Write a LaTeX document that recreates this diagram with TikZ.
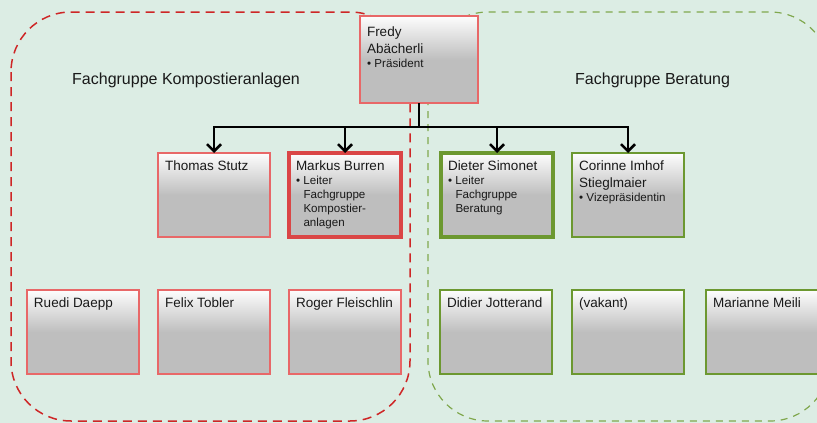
\documentclass[tikz,border=0pt]{standalone}
\usepackage{fontspec}
\setmainfont{Liberation Sans}
\usetikzlibrary{arrows.meta}

\definecolor{grund}{RGB}{220,237,228}
\definecolor{kompostrot}{RGB}{206,38,38}
\definecolor{beratgruen}{RGB}{128,168,78}
\definecolor{kartenrot}{RGB}{232,104,104}
\definecolor{leiterrot}{RGB}{218,70,70}
\definecolor{kartengruen}{RGB}{108,152,48}
\definecolor{kartengrau}{RGB}{190,190,190}

\newcommand{\karte}[2][98pt]{\parbox[t]{#1}{\fontsize{13.5}{17}\selectfont #2}}
\newcommand{\punkt}[1]{\par\fontsize{11.6}{14}\selectfont\hangindent=7.5pt\hangafter=1\noindent\makebox[7.5pt][l]{\textbullet}#1}

\begin{document}
\begin{tikzpicture}[x=1pt, y=-1pt]
    \tikzstyle{karte}=[rectangle, outer sep=0pt, inner xsep=7pt, inner ysep=0pt, anchor=north west, minimum width=112pt, text height=17.5pt, text depth=66.5pt, top color=white!97!kartengrau, bottom color=kartengrau, middle color=kartengrau, text=black!90]
    \tikzstyle{rot}=[karte, draw=kartenrot, line width=1.5pt]
    \tikzstyle{leiterin rot}=[karte, draw=leiterrot, line width=4pt]
    \tikzstyle{gruen}=[karte, draw=kartengruen, line width=2pt]
    \tikzstyle{leiterin gruen}=[karte, draw=kartengruen, line width=4pt]
    \tikzstyle{gruppe}=[inner sep=0pt, anchor=base west, font=\fontsize{16}{19}\selectfont, text=black!90]
    \tikzstyle{pfeil}=[line width=2.5pt, -{Straight Barb[length=7pt, width=14pt]}]
    \fill[grund] (0,0) rectangle (817,423);
    \clip (0,0) rectangle (817,423);
    \useasboundingbox (0,0) rectangle (817,423);
    % Fachgruppen
    \draw[kompostrot, line width=1.5pt, dash pattern=on 9pt off 6pt, rounded corners=60pt] (11,12) rectangle (410,421);
    \draw[beratgruen, line width=1.2pt, dash pattern=on 7pt off 6pt, rounded corners=60pt] (428,12) rectangle (830,421);
    \draw (72,84.5) node[gruppe] (lblkompost) {Fachgruppe Kompostieranlagen};
    \draw (575,84.5) node[gruppe] (lblberatung) {Fachgruppe Beratung};
    % Vorstand
    \draw (360,16) node[rot, minimum width=118pt, text height=20.5pt] (fredy) {\karte[104pt]{Fredy\\Abächerli\punkt{Präsident}}};
    \draw (158,153) node[rot] (thomas) {\karte{Thomas Stutz}};
    \draw (289,153) node[leiterin rot] (markus) {\karte{Markus Burren\punkt{Leiter\\Fachgruppe\\Kompostier-\\anlagen}}};
    \draw (441,153) node[leiterin gruen] (dieter) {\karte{Dieter Simonet\punkt{Leiter\\Fachgruppe\\Beratung}}};
    \draw (572,153) node[gruen] (corinne) {\karte{Corinne Imhof\\Stieglmaier\punkt{Vizepräsidentin}}};
    % Mitglieder
    \draw (27,290) node[rot] (ruedi) {\karte{Ruedi Daepp}};
    \draw (158,290) node[rot] (felix) {\karte{Felix Tobler}};
    \draw (289,290) node[rot] (roger) {\karte{Roger Fleischlin}};
    \draw (440,290) node[gruen] (didier) {\karte{Didier Jotterand}};
    \draw (572,290) node[gruen] (vakant) {\karte{(vakant)}};
    \draw (706,290) node[gruen] (marianne) {\karte{Marianne Meili}};
    % Verbindungen
    \coordinate (verteiler) at (419,127);
    \draw[line width=2.5pt] (fredy.south) -- (verteiler);
    \draw[pfeil] (verteiler) -| (thomas.north);
    \draw[pfeil] (verteiler) -| (markus.north);
    \draw[pfeil] (verteiler) -| (dieter.north);
    \draw[pfeil] (verteiler) -| (corinne.north);
\end{tikzpicture}
\end{document}
